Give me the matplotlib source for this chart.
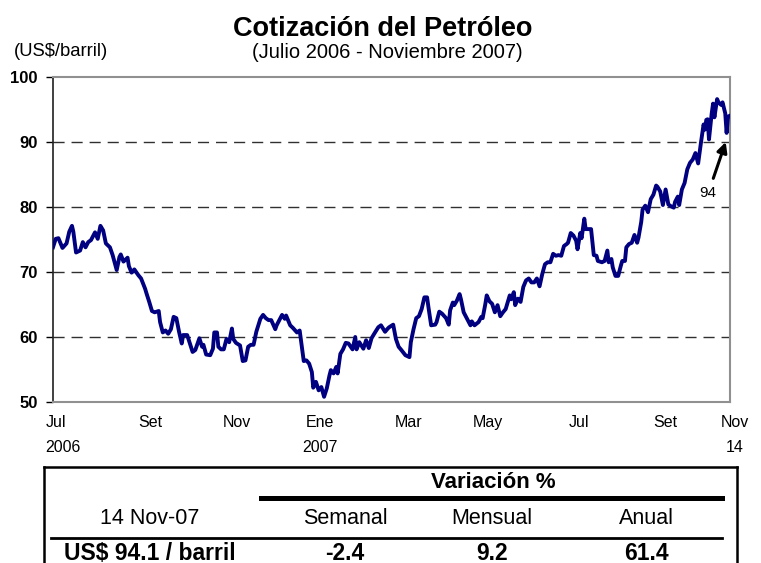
import matplotlib
matplotlib.use("Agg")
import matplotlib.pyplot as plt
from matplotlib.lines import Line2D
import matplotlib.transforms as mtransforms

plt.rcParams['font.family'] = ['Liberation Sans', 'DejaVu Sans']

# ---- data: days since 2006-07-03 and WTI price (US$/barril) ----
dias = [0, 2, 4, 7, 10, 12, 14, 15, 17, 20, 22, 24, 26, 28, 31, 33, 35, 37, 39, 42,
        44, 47, 49, 50, 52, 55, 56, 58, 60, 63, 65, 68, 69, 71, 73, 75, 78, 79, 81, 83,
        85, 87, 89, 91, 93, 95, 96, 99, 101, 103, 105, 108, 110, 111, 113, 116, 118, 119, 121, 122,
        124, 126, 128, 130, 132, 133, 135, 138, 140, 142, 144, 146, 148, 150, 153, 155, 157, 159, 161, 164,
        165, 169, 171, 172, 175, 177, 180, 182, 185, 187, 189, 191, 192, 194, 196, 198, 200, 202, 204, 205,
        207, 209, 210, 212, 214, 216, 218, 221, 223, 224, 226, 229, 231, 233, 235, 237, 240, 242, 245, 247,
        248, 251, 253, 255, 257, 260, 263, 264, 266, 268, 270, 272, 274, 276, 277, 279, 282, 283, 285, 287,
        290, 292, 293, 295, 296, 298, 300, 301, 303, 306, 308, 309, 311, 314, 316, 317, 319, 320, 322, 324,
        326, 328, 330, 332, 334, 337, 338, 340, 341, 343, 345, 347, 349, 351, 353, 355, 357, 359, 361, 363,
        365, 367, 369, 371, 373, 375, 377, 379, 380, 382, 384, 386, 387, 389, 390, 392, 393, 395, 397, 399,
        401, 402, 405, 407, 409, 410, 412, 413, 415, 417, 419, 420, 422, 423, 425, 427, 429, 431, 432, 434,
        435, 437, 439, 441, 443, 445, 446, 448, 450, 452, 454, 456, 458, 459, 461, 462, 464, 466, 468, 470,
        472, 474, 476, 478, 480, 481, 482, 483, 484, 486, 487, 488, 490, 491, 493, 494, 496, 497, 498, 499]
precio = [73.8, 75.1, 75.2, 73.7, 74.4, 76.2, 77.1, 76.2, 73.0, 73.3, 74.6, 73.8, 74.6, 74.9, 76.1, 75.1, 77.1, 76.4, 74.4, 73.8,
          72.6, 70.3, 72.3, 72.7, 71.6, 72.2, 70.9, 69.9, 70.4, 69.5, 69.0, 67.4, 66.7, 65.4, 64.0, 63.8, 64.0, 62.3, 60.7, 61.0,
          60.5, 61.2, 63.1, 62.9, 60.8, 59.0, 60.3, 60.3, 59.0, 57.7, 58.0, 59.8, 58.5, 58.8, 57.3, 57.2, 58.2, 60.7, 60.7, 58.5,
          58.1, 58.1, 59.7, 59.2, 61.3, 59.7, 59.1, 58.7, 56.3, 56.4, 58.5, 58.8, 58.8, 60.8, 62.8, 63.4, 62.9, 62.6, 62.6, 61.2,
          61.8, 63.4, 62.8, 63.3, 61.8, 61.4, 60.7, 61.0, 56.3, 56.4, 55.9, 54.6, 52.2, 53.1, 51.8, 52.3, 50.8, 52.1, 54.1, 54.9,
          54.4, 55.4, 54.4, 57.4, 58.1, 59.1, 59.0, 58.1, 60.0, 58.1, 59.2, 58.2, 59.5, 58.3, 59.8, 60.5, 61.5, 61.8, 60.8, 61.3,
          61.5, 61.9, 59.7, 58.5, 58.0, 57.2, 56.9, 59.2, 61.2, 62.9, 63.2, 64.3, 66.1, 66.1, 64.6, 61.8, 61.9, 62.3, 63.9, 63.6,
          62.9, 61.9, 64.1, 65.3, 64.9, 65.6, 66.6, 65.8, 63.8, 62.6, 61.8, 62.4, 61.8, 62.3, 63.1, 62.9, 65.1, 66.4, 65.5, 65.1,
          63.8, 64.9, 63.2, 63.8, 64.3, 66.4, 65.8, 66.9, 64.9, 65.9, 65.4, 67.7, 68.7, 69.0, 68.4, 68.4, 69.0, 67.8, 69.7, 71.2,
          71.5, 71.5, 72.8, 72.5, 72.6, 72.5, 74.0, 74.3, 74.5, 76.0, 75.6, 74.8, 73.5, 76.0, 75.2, 78.2, 76.6, 76.6, 76.6, 72.6,
          72.5, 71.7, 71.5, 71.7, 73.3, 71.5, 72.0, 70.7, 69.4, 69.4, 71.0, 71.7, 71.7, 73.8, 74.3, 74.5, 75.7, 74.5, 75.3, 77.7,
          79.6, 80.2, 79.2, 81.2, 81.9, 83.3, 83.1, 82.4, 80.3, 82.7, 80.4, 80.1, 79.9, 80.8, 81.6, 80.3, 82.7, 83.7, 85.8, 86.8,
          87.3, 88.3, 86.7, 89.8, 92.7, 91.9, 93.4, 93.5, 90.4, 94.4, 95.9, 93.8, 96.6, 96.1, 95.7, 96.1, 94.4, 91.4, 93.9, 94.0]

mes_etiquetas = ["Jul", "Set", "Nov", "Ene", "Mar", "May", "Jul", "Set", "Nov"]
mes_dias = [2, 72, 136, 197, 262, 321, 388, 452, 503]
anio_etiquetas = ["2006", "2007", "14"]
anio_dias = [7, 197, 503]

y_ticks = [50, 60, 70, 80, 90, 100]
ultimo_valor = "94"

titulo = "Cotización del Petróleo"
subtitulo = "(Julio 2006 - Noviembre 2007)"
unidad = "(US$/barril)"

tabla_header = "Variación %"
tabla_fila1 = ["14 Nov-07", "Semanal", "Mensual", "Anual"]
tabla_fila2 = ["US$ 94.1 / barril", "-2.4", "9.2", "61.4"]

# ---- figure ----
W, H = 761, 563
fig = plt.figure(figsize=(W / 100, H / 100), dpi=100)
fig.patch.set_facecolor("white")

ax = fig.add_axes([53 / W, 1 - 402 / H, (730 - 53) / W, (402 - 77) / H])
ax.plot(dias, precio, color="#000080", lw=2.8, solid_joinstyle="round", zorder=3)
ax.set_xlim(0, 499.5)
ax.set_ylim(50, 100)

ax.set_yticks(y_ticks)
ax.set_yticklabels([str(v) for v in y_ticks], fontweight="bold", fontsize=12)
ax.tick_params(axis="y", direction="out", length=5, width=1, pad=6, colors="black")
ax.set_xticks([])

for v in y_ticks[1:-1]:
    ax.axhline(v, color="#303030", lw=1, dashes=(8, 5), zorder=1)

for s in ["top", "right", "bottom"]:
    ax.spines[s].set_color("#909090")
    ax.spines[s].set_linewidth(1.5)
ax.spines["left"].set_color("#202020")
ax.spines["left"].set_linewidth(1.2)

trans = mtransforms.blended_transform_factory(ax.transData, fig.transFigure)
for lab, d in zip(mes_etiquetas, mes_dias):
    ax.text(d, 1 - 427 / H, lab, transform=trans, ha="center", va="baseline",
            fontsize=11.5, clip_on=False)
for lab, d in zip(anio_etiquetas, anio_dias):
    ax.text(d, 1 - 451.5 / H, lab, transform=trans, ha="center", va="baseline",
            fontsize=11.5, clip_on=False)

ax.annotate("", xy=(497, 90.4), xytext=(486.5, 84.0),
            arrowprops=dict(arrowstyle="-|>,head_length=0.6,head_width=0.3",
                            color="black", lw=2.2), zorder=4)
ax.text(483, 82.1, ultimo_valor, ha="center", va="center", fontsize=11)

fig.text(383 / W, 1 - 36.5 / H, titulo, ha="center", va="baseline",
         fontsize=19.5, fontweight="bold")
fig.text(387 / W, 1 - 58 / H, subtitulo, ha="center", va="baseline", fontsize=14.5)
fig.text(14 / W, 1 - 55.5 / H, unidad, ha="left", va="baseline", fontsize=13.3)

# ---- table (overlay axes in pixel units) ----
tx = fig.add_axes([0, 0, 1, 1], facecolor="none")
tx.set_xlim(0, W)
tx.set_ylim(H, 0)
tx.axis("off")
tx.add_line(Line2D([44, 737], [467, 467], color="black", lw=1.8))
tx.add_line(Line2D([44, 44], [467, 563], color="black", lw=1.8))
tx.add_line(Line2D([737, 737], [467, 563], color="black", lw=1.8))
tx.add_line(Line2D([261, 722], [498, 498], color="black", lw=3.6))
tx.add_line(Line2D([51, 722], [538, 538], color="black", lw=2.0))

tx.text(493, 483, tabla_header, ha="center", va="center", fontsize=16, fontweight="bold")
col_x = [150, 345, 492, 646]
for lab, cx in zip(tabla_fila1, col_x):
    tx.text(cx, 518, lab, ha="center", va="center", fontsize=15.5)
for lab, cx in zip(tabla_fila2, col_x):
    tx.text(cx, 559.5, lab, ha="center", va="baseline", fontsize=16.5, fontweight="bold")

fig.savefig("out.png", dpi=100, facecolor="white")
